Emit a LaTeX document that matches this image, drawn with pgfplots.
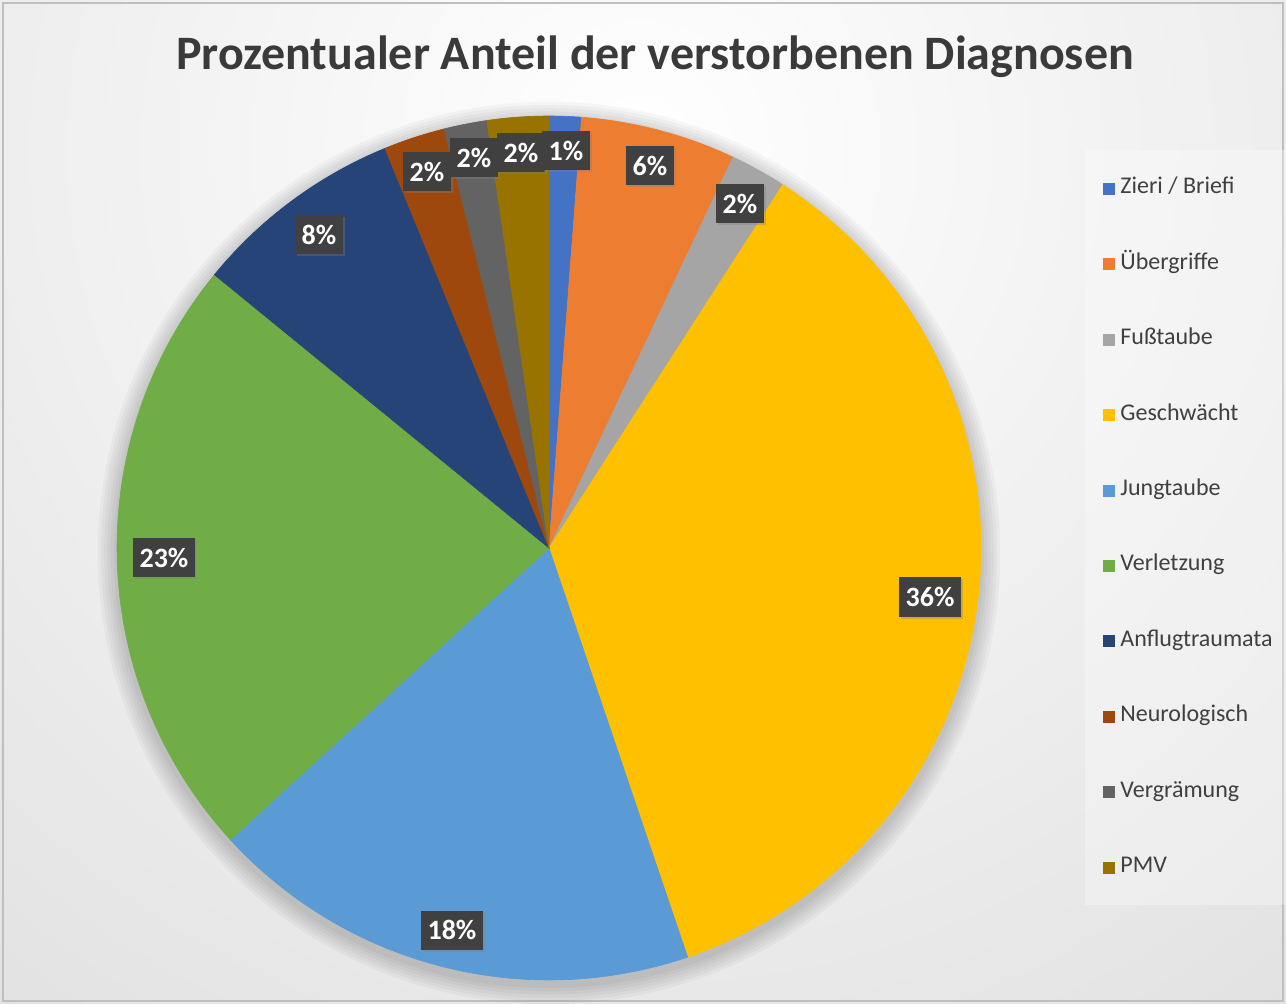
\documentclass[border=0pt]{standalone}
\usepackage{pgfplots}
\usepackage{pgfplotstable}
\pgfplotsset{compat=1.18}
\usepackage{fontspec}
\setmainfont{Carlito}
\usetikzlibrary{shadows}

\definecolor{c0}{HTML}{4472C4}
\definecolor{c1}{HTML}{ED7D31}
\definecolor{c2}{HTML}{A5A5A5}
\definecolor{c3}{HTML}{FFC000}
\definecolor{c4}{HTML}{5B9BD5}
\definecolor{c5}{HTML}{70AD47}
\definecolor{c6}{HTML}{264478}
\definecolor{c7}{HTML}{9E480E}
\definecolor{c8}{HTML}{636363}
\definecolor{c9}{HTML}{997300}
\definecolor{labgray}{HTML}{404040}
\definecolor{titlegray}{HTML}{3A3A3A}
\definecolor{leggray}{HTML}{404040}
\definecolor{bggray}{HTML}{C9C9C9}

\tikzset{
  lab/.style={fill=labgray, text=white, font=\bfseries\fontsize{14}{16}\selectfont,
    inner xsep=3.5pt, inner ysep=0pt, minimum height=19.5pt,
    drop shadow={opacity=0.35, shadow xshift=1pt, shadow yshift=-1pt}},
  leg/.style={anchor=base west, text=leggray, font=\fontsize{12}{14}\selectfont, inner sep=0pt},
}

% share of each diagnosis, percent (clockwise from 12 o'clock)
\pgfplotstableread{
name          value
Zieri/Briefi  1.2
Uebergriffe   5.8
Fusstaube     2.1
Geschwaecht   35.7
Jungtaube     18.4
Verletzung    22.7
Anflugtraumata 7.9
Neurologisch  2.3
Vergraemung   1.6
PMV           2.3
}\piedata

\begin{document}
\begin{tikzpicture}
\useasboundingbox (0,0) rectangle (643pt,501.5pt);
\begin{axis}[
  at={(0,0)}, anchor=south west,
  scale only axis, width=643pt, height=501.5pt,
  xmin=0, xmax=1286, ymin=0, ymax=1003,
  hide axis, clip=true,
]
% background
\fill[inner color=white, outer color=bggray] (axis cs:640,853) circle[radius=1000pt];
\draw[color=black!25, line width=0.8pt] (axis cs:3,2) rectangle (axis cs:1283,1000);
% legend panel
\fill[white, opacity=0.3] (axis cs:1085,98) rectangle (axis cs:1286,853);
% soft shadow round the pie
\fill[black, opacity=0.03] (axis cs:549,450) circle[radius=217.6pt];
\fill[black, opacity=0.03] (axis cs:549,450) circle[radius=219.2pt];
\fill[black, opacity=0.03] (axis cs:549,450) circle[radius=220.8pt];
\fill[black, opacity=0.03] (axis cs:549,450) circle[radius=222.4pt];
\fill[black, opacity=0.03] (axis cs:549,450) circle[radius=224pt];
\fill[black, opacity=0.03] (axis cs:549,450) circle[radius=225.6pt];
% pie wedges from the table
\def\cum{0}
\pgfplotsforeachungrouped \i in {0,...,9}{
  \pgfplotstablegetelem{\i}{value}\of\piedata
  \pgfmathsetmacro\sa{\cum*3.6}
  \pgfmathsetmacro\cum{\cum+\pgfplotsretval}
  \pgfmathsetmacro\sb{\cum*3.6}
  \edef\temp{\noexpand\addplot[fill=c\i, draw=c\i, line width=0.3pt, domain=\sa:\sb, samples=90]
    ({549+432*sin(x)},{455+432*cos(x)}) -- (axis cs:549,455) -- cycle;}
  \temp
}
% data labels
\node[lab] at (axis cs:427,831) {2\%};
\node[lab] at (axis cs:474,845) {2\%};
\node[lab] at (axis cs:521,850) {2\%};
\node[lab] at (axis cs:566,852) {1\%};
\node[lab] at (axis cs:650,837) {6\%};
\node[lab] at (axis cs:740,799) {2\%};
\node[lab] at (axis cs:930,406) {36\%};
\node[lab] at (axis cs:452,73) {18\%};
\node[lab] at (axis cs:164,445) {23\%};
\node[lab] at (axis cs:319,768) {8\%};
% title
\node[anchor=base, text=titlegray, font=\bfseries\fontsize{24}{29}\selectfont, inner sep=0pt]
  at (axis cs:655,933) {Prozentualer Anteil der verstorbenen Diagnosen};
% legend
\fill[c0] (axis cs:1103,808) rectangle (axis cs:1115,820);
\node[leg] at (axis cs:1120,809) {Zieri / Briefi};
\fill[c1] (axis cs:1103,732.6) rectangle (axis cs:1115,744.6);
\node[leg] at (axis cs:1120,733.6) {Übergriffe};
\fill[c2] (axis cs:1103,657.2) rectangle (axis cs:1115,669.2);
\node[leg] at (axis cs:1120,658.2) {Fußtaube};
\fill[c3] (axis cs:1103,581.8) rectangle (axis cs:1115,593.8);
\node[leg] at (axis cs:1120,582.8) {Geschwächt};
\fill[c4] (axis cs:1103,506.4) rectangle (axis cs:1115,518.4);
\node[leg] at (axis cs:1120,507.4) {Jungtaube};
\fill[c5] (axis cs:1103,431) rectangle (axis cs:1115,443);
\node[leg] at (axis cs:1120,432) {Verletzung};
\fill[c6] (axis cs:1103,355.6) rectangle (axis cs:1115,367.6);
\node[leg] at (axis cs:1120,356.6) {Anflugtraumata};
\fill[c7] (axis cs:1103,280.2) rectangle (axis cs:1115,292.2);
\node[leg] at (axis cs:1120,281.2) {Neurologisch};
\fill[c8] (axis cs:1103,204.8) rectangle (axis cs:1115,216.8);
\node[leg] at (axis cs:1120,205.8) {Vergrämung};
\fill[c9] (axis cs:1103,129.4) rectangle (axis cs:1115,141.4);
\node[leg] at (axis cs:1120,130.4) {PMV};
\end{axis}
\end{tikzpicture}
\end{document}
